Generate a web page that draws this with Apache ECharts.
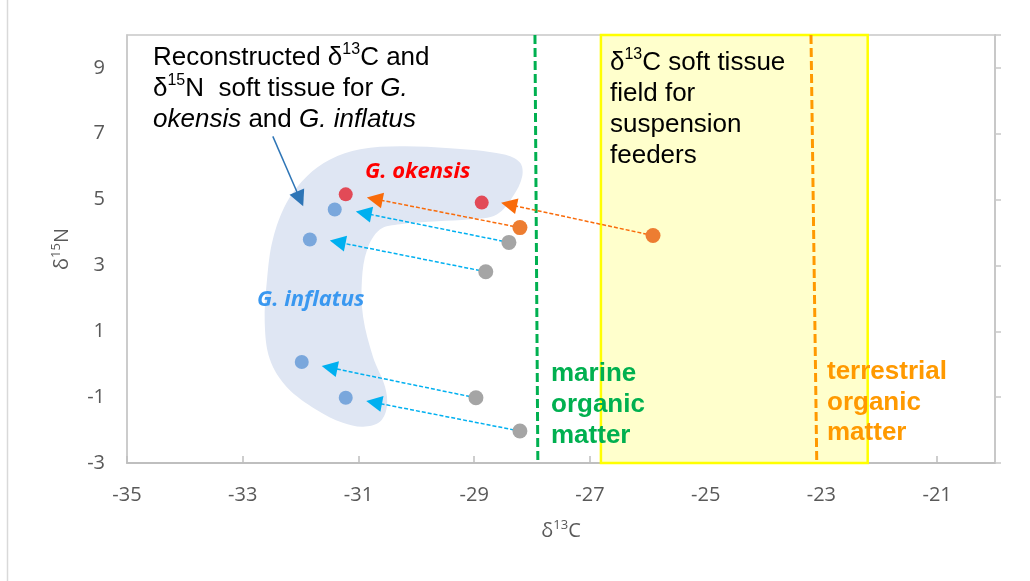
<!DOCTYPE html>
<html>
<head>
<meta charset="utf-8">
<script src="https://cdn.jsdelivr.net/npm/echarts@6/dist/echarts.min.js"></script>
<style>
html,body{margin:0;padding:0;background:#fff;}
#chart{width:1030px;height:581px;}
</style>
</head>
<body>
<div id="chart"></div>
<script>
// ---- axes ----
const xMin = -35, xMax = -20, yMin = -3, yMax = 10, tickStep = 2;
const xTickLabels = ['-35','-33','-31','-29','-27','-25','-23','-21'];
const yTickLabels = ['-3','-1','1','3','5','7','9'];

// ---- measured values (original) ----
const okensisOrigX = [-28.21, -25.91];
const okensisOrigY = [4.15, 3.91];
const inflatusOrigX = [-28.40, -28.80, -28.97, -28.21];
const inflatusOrigY = [3.70, 2.81, -1.02, -2.03];

// ---- reconstructed soft tissue values ----
const okensisX = [-31.22, -28.87];
const okensisY = [5.16, 4.91];
const inflatusX = [-31.41, -31.84, -31.98, -31.22];
const inflatusY = [4.70, 3.79, 0.07, -1.02];

// ---- arrow heads (where each shift arrow points) ----
const okensisArrowX = [-30.72, -28.40];
const okensisArrowY = [5.02, 4.85];
const inflatusArrowX = [-30.91, -31.36, -31.50, -30.73];
const inflatusArrowY = [4.59, 3.71, -0.10, -1.16];

// ---- reference fields ----
const marineLineX = [-27.95, -27.90];
const terrestrialLineX = [-23.18, -23.08];
const lineYEnds = [10, -3];
const suspensionFieldX = [-26.81, -22.20];
const suspensionFieldY = [-3, 10];

// ---- shaded reconstruction region outline ----
const blobX = [-30.97,-30.28,-29.42,-28.50,-28.21,-28.17,-28.33,-28.61,-29.07,-29.64,-30.28,-30.63,-30.85,-30.94,-30.92,-30.75,-30.54,-30.51,-30.63,-30.92,-31.27,-31.72,-32.24,-32.53,-32.62,-32.58,-32.48,-32.24,-31.89,-31.49];
const blobY = [6.53,6.62,6.56,6.38,6.13,5.71,5.10,4.55,4.40,4.34,4.25,4.09,3.48,2.57,1.44,0.23,-0.69,-1.30,-1.75,-1.90,-1.78,-1.39,-0.69,0.14,1.26,2.57,3.79,4.91,5.71,6.22];

// ---- callout arrow ----
const calloutX = [-32.48, -32.01];
const calloutY = [6.92, 5.02];

const zip = (xs, ys) => xs.map((x, i) => [x, ys[i]]);
const arrows = (x0, y0, x1, y1) => x0.map((x, i) => ({coords: [[x, y0[i]], [x1[i], y1[i]]]}));

const AR = 'Liberation Sans, Arial, sans-serif';
const LF = 'Open Sans, sans-serif';
const axisGray = '#595959';

const chart = echarts.init(document.getElementById('chart'), null, {renderer: 'canvas'});

const option = {
  animation: false,
  backgroundColor: '#ffffff',
  grid: {left: 127, right: 35, top: 35, bottom: 118, show: true, borderColor: '#c8c8c8', borderWidth: 1.5, backgroundColor: 'transparent'},
  xAxis: {
    type: 'value', min: xMin, max: xMax, interval: tickStep,
    name: '{a|δ}{s|13}{a|C}', nameLocation: 'middle', nameGap: 56,
    nameTextStyle: {rich: {
      a: {fontSize: 20, fontFamily: LF, color: axisGray, lineHeight: 24},
      s: {fontSize: 13, fontFamily: LF, color: axisGray, lineHeight: 16, verticalAlign: 'top'}
    }},
    axisLine: {show: true, onZero: false, lineStyle: {color: '#bfbfbf', width: 2}},
    axisTick: {show: true, inside: true, length: 7, lineStyle: {color: '#bfbfbf', width: 1.5}},
    axisLabel: {fontSize: 20, fontFamily: LF, color: axisGray, margin: 22, lineHeight: 20, showMaxLabel: false,
      formatter: v => xTickLabels.includes(String(v)) ? String(v) : ''},
    splitLine: {show: false}
  },
  yAxis: [{
    type: 'value', min: yMin, max: yMax, interval: tickStep, position: 'left',
    name: '{a|δ}{s|15}{a|N}', nameLocation: 'middle', nameGap: 53, nameRotate: 90,
    nameTextStyle: {rich: {
      a: {fontSize: 20, fontFamily: LF, color: axisGray, lineHeight: 24},
      s: {fontSize: 13, fontFamily: LF, color: axisGray, lineHeight: 16, verticalAlign: 'top'}
    }},
    axisLine: {show: true, onZero: false, lineStyle: {color: '#c8c8c8', width: 1.5}},
    axisTick: {show: false},
    axisLabel: {fontSize: 20, fontFamily: LF, color: axisGray, margin: 22, showMaxLabel: false,
      formatter: v => yTickLabels.includes(String(v)) ? String(v) : ''},
    splitLine: {show: false}
  }, {
    type: 'value', min: yMin, max: yMax, interval: tickStep, position: 'right',
    axisLine: {show: true, onZero: false, lineStyle: {color: '#c8c8c8', width: 2}},
    axisTick: {show: true, inside: false, length: 6, lineStyle: {color: '#c8c8c8', width: 1.5}},
    axisLabel: {show: false},
    splitLine: {show: false}
  }],
  series: [
    {
      type: 'custom', name: 'region', z: 1, silent: true,
      data: [[blobX[0], blobY[0]]],
      encode: {x: 0, y: 1},
      renderItem: function (params, api) {
        const pts = blobX.map((x, i) => api.coord([x, blobY[i]]));
        return {type: 'polygon', shape: {points: pts, smooth: 0.35}, style: {fill: '#dfe6f3'}};
      }
    },
    {
      type: 'line', name: 'marine', z: 2, silent: true, showSymbol: false, symbol: 'none',
      data: zip(marineLineX, lineYEnds),
      lineStyle: {color: '#00b050', width: 3, type: [9, 4]},
      markArea: {
        silent: true, z: 1,
        itemStyle: {color: '#ffffcc', borderColor: '#ffff00', borderWidth: 2.5},
        data: [[{xAxis: suspensionFieldX[0], yAxis: suspensionFieldY[0]}, {xAxis: suspensionFieldX[1], yAxis: suspensionFieldY[1]}]]
      }
    },
    {
      type: 'line', name: 'terrestrial', z: 2, silent: true, showSymbol: false, symbol: 'none',
      data: zip(terrestrialLineX, lineYEnds),
      lineStyle: {color: '#ff9900', width: 3, type: [9, 4]}
    },
    {
      type: 'lines', coordinateSystem: 'cartesian2d', z: 3, silent: true,
      symbol: ['none', 'triangle'], symbolSize: [13, 16],
      lineStyle: {color: '#f96b0a', width: 1.5, type: [4, 2], opacity: 1},
      data: arrows(okensisOrigX, okensisOrigY, okensisArrowX, okensisArrowY)
    },
    {
      type: 'lines', coordinateSystem: 'cartesian2d', z: 3, silent: true,
      symbol: ['none', 'triangle'], symbolSize: [13, 16],
      lineStyle: {color: '#00b0f0', width: 1.5, type: [4, 2], opacity: 1},
      data: arrows(inflatusOrigX, inflatusOrigY, inflatusArrowX, inflatusArrowY)
    },
    {
      type: 'lines', coordinateSystem: 'cartesian2d', z: 3, silent: true,
      symbol: ['none', 'triangle'], symbolSize: [13, 16],
      lineStyle: {color: '#2e75b6', width: 1.5, type: 'solid', opacity: 1},
      data: [{coords: zip(calloutX, calloutY)}]
    },
    {type: 'scatter', name: 'G. okensis original', z: 4, symbolSize: 15, itemStyle: {color: '#ed7d31', opacity: 1}, data: zip(okensisOrigX, okensisOrigY)},
    {type: 'scatter', name: 'G. inflatus original', z: 4, symbolSize: 15, itemStyle: {color: '#a5a5a5', opacity: 1}, data: zip(inflatusOrigX, inflatusOrigY)},
    {type: 'scatter', name: 'G. okensis soft tissue', z: 4, symbolSize: 14, itemStyle: {color: '#e24a57', opacity: 1}, data: zip(okensisX, okensisY)},
    {type: 'scatter', name: 'G. inflatus soft tissue', z: 4, symbolSize: 14, itemStyle: {color: '#7aa7dc', opacity: 1}, data: zip(inflatusX, inflatusY)}
  ],
  graphic: [
    {type: 'line', z: 100, shape: {x1: 7.5, y1: 0, x2: 7.5, y2: 581}, style: {stroke: '#d9d9d9', lineWidth: 1.5}},
    {
      type: 'text', left: 153, top: 42, z: 100,
      style: {
        text: '{n|Reconstructed δ}{s|13}{n|C and}\n{n|δ}{s|15}{n|N  soft tissue for }{i|G.}\n{i|okensis}{n| and }{i|G. inflatus}',
        rich: {
          n: {fontSize: 26, fontFamily: AR, fill: '#000', lineHeight: 31},
          i: {fontSize: 26, fontFamily: AR, fill: '#000', lineHeight: 31, fontStyle: 'italic'},
          s: {fontSize: 16, fontFamily: AR, fill: '#000', lineHeight: 20, verticalAlign: 'top'}
        }
      }
    },
    {
      type: 'text', left: 610, top: 47, z: 100,
      style: {
        text: '{n|δ}{s|13}{n|C soft tissue}\n{n|field for}\n{n|suspension}\n{n|feeders}',
        rich: {
          n: {fontSize: 26, fontFamily: AR, fill: '#000', lineHeight: 31},
          s: {fontSize: 16, fontFamily: AR, fill: '#000', lineHeight: 20, verticalAlign: 'top'}
        }
      }
    },
    {
      type: 'text', left: 551, top: 358, z: 100,
      style: {text: 'marine\norganic\nmatter', fontSize: 26, fontWeight: 'bold', fontFamily: AR, fill: '#00b050', lineHeight: 31}
    },
    {
      type: 'text', left: 827, top: 357, z: 100,
      style: {text: 'terrestrial\norganic\nmatter', fontSize: 26, fontWeight: 'bold', fontFamily: AR, fill: '#ff9900', lineHeight: 30.5}
    },
    {
      type: 'text', left: 365, top: 158, z: 100,
      style: {text: 'G. okensis', fontSize: 22, fontWeight: 'bold', fontStyle: 'italic', fontFamily: LF, fill: '#ff0000', lineHeight: 28}
    },
    {
      type: 'text', left: 257, top: 286, z: 100,
      style: {text: 'G. inflatus', fontSize: 22, fontWeight: 'bold', fontStyle: 'italic', fontFamily: LF, fill: '#3a98f0', lineHeight: 28}
    }
  ]
};
chart.setOption(option);
</script>
</body>
</html>
